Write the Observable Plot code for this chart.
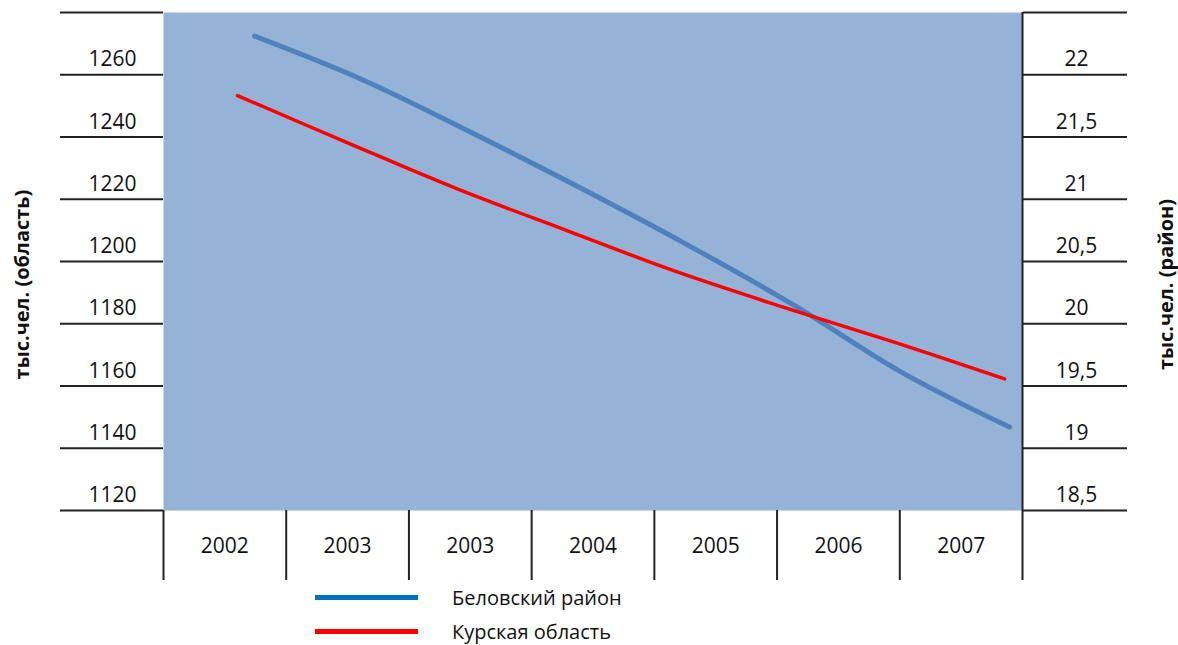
<!DOCTYPE html>
<html>
<head>
<meta charset="utf-8">
<script src="https://cdn.jsdelivr.net/npm/d3@7"></script>
<script src="https://cdn.jsdelivr.net/npm/@observablehq/plot@0.6"></script>
<style>
  html, body { margin: 0; padding: 0; background: #fff; }
  #chart { position: relative; width: 1178px; height: 645px; overflow: hidden; font-family: "Open Sans", sans-serif; }
  #chart svg { display: block; }
  #legend { position: absolute; left: 0; top: 585px; width: 1178px; height: 60px; }
  .item { position: absolute; left: 315px; height: 24px; display: flex; align-items: center; }
  .swatch { width: 103px; height: 5px; }
  .lab { margin-left: 34px; font-size: 20px; line-height: 22px; color: #111; position: relative; top: 1px; white-space: nowrap; }
</style>
</head>
<body>
<div id="chart"></div>
<script>
// ---- data ----
const columns = ["2002", "2003", "2003", "2004", "2005", "2006", "2007"];

const leftDomain = [1120, 1280];
const rightDomain = [18.5, 22.5];
const leftGrid = [1120, 1140, 1160, 1180, 1200, 1220, 1240, 1260, 1280];
const leftLabels = [1120, 1140, 1160, 1180, 1200, 1220, 1240, 1260];
const rightLabels = [18.5, 19, 19.5, 20, 20.5, 21, 21.5, 22];

// Курская область (left axis), positions in column units
const kurskX = [0.603, 1.496, 2.389, 3.282, 4.175, 5.068, 5.961, 6.854];
const kurskValues = [1253.3, 1238.2, 1223.4, 1210.0, 1196.8, 1185.1, 1174.0, 1162.3];

// Беловский район (right axis)
const belovX = [0.742, 1.621, 2.500, 3.379, 4.258, 5.137, 6.015, 6.894];
const belovValues = [22.31, 21.96, 21.54, 21.10, 20.64, 20.15, 19.61, 19.17];

const seriesNames = ["Беловский район", "Курская область"];
const lineColors = ["#4F81BD", "#FF0000"];
const legendColors = ["#0070C0", "#FF0000"];
const leftTitle = "тыс.чел. (область)";
const rightTitle = "тыс.чел. (район)";

// ---- build ----
const toLeft = d3.scaleLinear().domain(rightDomain).range(leftDomain);
const fmtRight = v => String(Math.round(v * 10) / 10).replace(".", ",");

const kursk = kurskX.map((x, i) => ({x, v: kurskValues[i]}));
const belov = belovX.map((x, i) => ({x, v: toLeft(belovValues[i])}));

const font = "Open Sans";
const plot = Plot.plot({
  width: 1178,
  height: 585,
  marginLeft: 163,
  marginRight: 156,
  marginTop: 12,
  marginBottom: 75,
  x: {domain: [0, columns.length], axis: null},
  y: {domain: leftDomain, axis: null},
  style: {fontFamily: font, fontSize: "21px", color: "#111", background: "transparent", overflow: "visible"},
  marks: [
    Plot.frame({fill: "#95B3D7", stroke: null}),
    // left grid lines
    Plot.axisY({anchor: "left", label: null, ticks: leftGrid, tickSize: 103, tickFormat: () => "", stroke: "#222", strokeWidth: 2}),
    Plot.axisY({anchor: "left", label: null, ticks: leftLabels, tickSize: 0, tickPadding: 51, textAnchor: "middle", dy: -15,
      tickFormat: d => String(d), fontSize: 21, fill: "#111"}),
    // right grid lines
    Plot.axisY({anchor: "right", label: null, ticks: leftGrid, tickSize: 104, tickFormat: () => "", stroke: "#222", strokeWidth: 2}),
    Plot.axisY({anchor: "right", label: null, ticks: rightLabels.map(toLeft), tickSize: 0, tickPadding: 54, textAnchor: "middle", dy: -15,
      tickFormat: d => fmtRight(toLeft.invert(d)), fontSize: 21, fill: "#111"}),
    // bottom dividers
    Plot.axisX({anchor: "bottom", label: null, ticks: d3.range(columns.length + 1), tickSize: 70, tickFormat: () => "", stroke: "#222", strokeWidth: 2}),
    Plot.axisX({anchor: "bottom", label: null, ticks: columns.map((_, i) => i + 0.5), tickSize: 0, tickPadding: 36, lineAnchor: "middle",
      tickFormat: d => columns[Math.floor(d)], fontSize: 21, fill: "#111"}),
    // right edge
    Plot.ruleX([columns.length], {stroke: "#222", strokeWidth: 2}),
    // lines
    Plot.line(belov, {x: "x", y: "v", stroke: lineColors[0], strokeWidth: 5, curve: "catmull-rom"}),
    Plot.line(kursk, {x: "x", y: "v", stroke: lineColors[1], strokeWidth: 3.5, curve: "catmull-rom"}),
    // axis titles
    Plot.text([leftTitle], {text: d => d, frameAnchor: "left", textAnchor: "middle", rotate: -90, dx: -141, dy: 23, fontWeight: "bold", fontSize: 20, fill: "#111"}),
    Plot.text([rightTitle], {text: d => d, frameAnchor: "right", textAnchor: "middle", rotate: -90, dx: 144, dy: 23, fontWeight: "bold", fontSize: 20, fill: "#111"})
  ]
});

const chart = document.getElementById("chart");
chart.appendChild(plot);

const legend = document.createElement("div");
legend.id = "legend";
seriesNames.forEach((name, i) => {
  const item = document.createElement("div");
  item.className = "item";
  item.style.top = (i * 34) + "px";
  const sw = document.createElement("div");
  sw.className = "swatch";
  sw.style.background = legendColors[i];
  const lab = document.createElement("span");
  lab.className = "lab";
  lab.textContent = name;
  item.appendChild(sw);
  item.appendChild(lab);
  legend.appendChild(item);
});
chart.appendChild(legend);
</script>
</body>
</html>
